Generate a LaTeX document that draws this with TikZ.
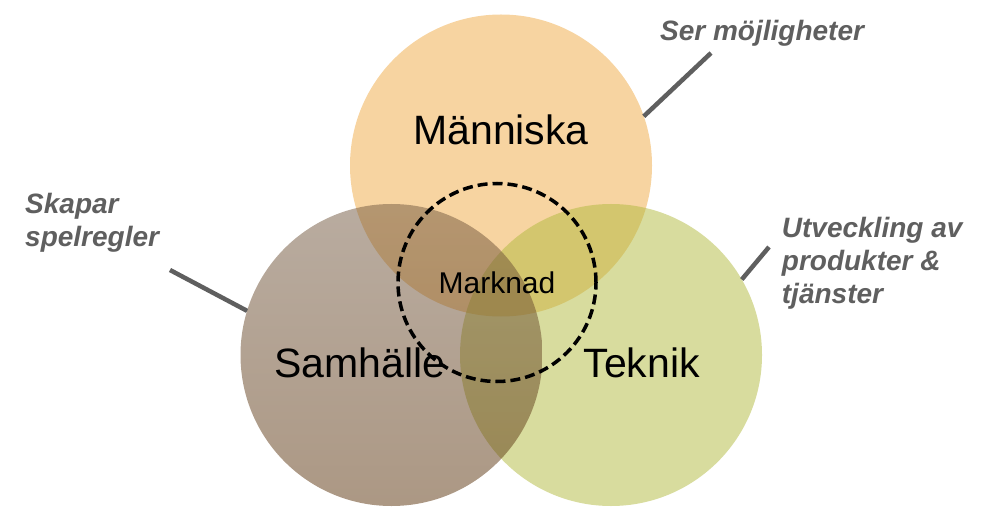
\documentclass[tikz,border=0pt]{standalone}
\usepackage{fontspec}
\setmainfont{Liberation Sans}

\definecolor{mannc}{RGB}{239,169,67}
\definecolor{teknc}{RGB}{177,185,61}
\definecolor{samhtop}{RGB}{115,89,65}
\definecolor{samhbot}{RGB}{89,49,9}
\definecolor{notegray}{RGB}{95,95,95}

\begin{document}
\begin{tikzpicture}[x=1pt, y=-1pt,
                    ring/.style={circle, minimum size=302pt, inner sep=0pt, outer sep=0pt},
                    big/.style={anchor=base, inner sep=0pt, font=\fontsize{41}{49}\selectfont},
                    note/.style={anchor=base west, inner sep=0pt, align=left, text=notegray,
                                 font=\fontsize{28}{33}\selectfont\bfseries\itshape},
                    leader/.style={draw=notegray, line width=4.5pt}]

\useasboundingbox (0,0) rectangle (1000,510);

% Circles
\node[ring, fill=mannc, fill opacity=0.5] (mann) at (501,165.5) {};
\node[ring, fill=teknc, fill opacity=0.5] (tekn) at (611,355)   {};
\node[ring, top color=samhtop, bottom color=samhbot, opacity=0.5] (samh) at (391.5,355) {};
\node[circle, draw, line width=3.5pt, dash pattern=on 10pt off 5pt, minimum size=198pt,
      font=\fontsize{30}{36}\selectfont] (mark) at (497,282.5) {Marknad};

% Labels
\node[big] (manntext) at (501,145)   {Människa};
\node[big] (samhtext) at (360,377)   {Samhälle};
\node[big] (tekntext) at (641.7,377) {Teknik};

% (base of a multi-line note is its last line)
\node[note] (ser) at (660,40.7)    {Ser möjligheter};
\node[note] (ska) at (25,246.7)    {Skapar\\spelregler};
\node[note] (utv) at (781.7,303.3) {Utveckling av\\produkter \&\\tjänster};

% Leaders
\coordinate (sertip) at (711,53);
\coordinate (skatip) at (170,270);
\coordinate (utvtip) at (769,247);
\draw[leader] (sertip) -- (mann.19);
\draw[leader] (skatip) -- (samh.163);
\draw[leader] (utvtip) -- (tekn.30);

\end{tikzpicture}
\end{document}
